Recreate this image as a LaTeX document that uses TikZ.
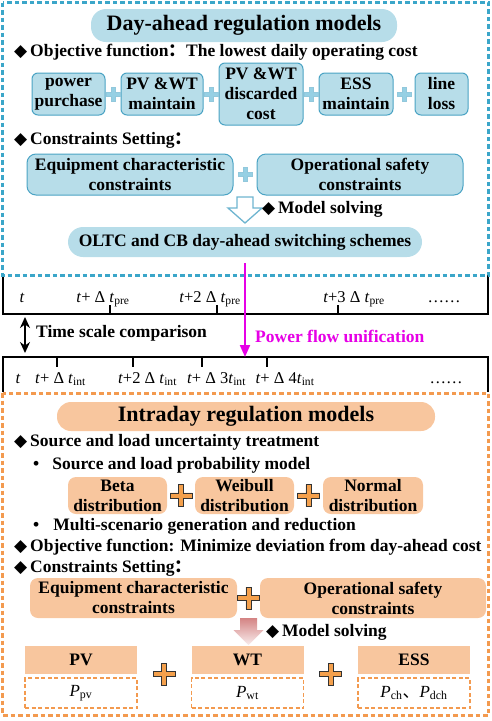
\documentclass[tikz,border=0pt]{standalone}
\usepackage{fontspec}
\setmainfont{Liberation Serif}
\newfontfamily\symfont{DejaVu Sans}
\newfontfamily\cjk{Noto Sans CJK SC}
\usetikzlibrary{arrows.meta,positioning,calc}
\definecolor{dashblue}{RGB}{59,166,201}
\definecolor{boxblue}{RGB}{183,221,233}
\definecolor{edgeblue}{RGB}{74,163,196}
\definecolor{plusblue}{RGB}{150,208,228}
\definecolor{dashorange}{RGB}{243,154,79}
\definecolor{peach}{RGB}{248,198,158}
\definecolor{plusorange}{RGB}{244,160,76}
\definecolor{flow}{RGB}{230,0,230}
\definecolor{rose}{RGB}{212,132,132}
\newcommand{\dia}{{\symfont\fontsize{17}{17}\selectfont ◆}\,}
\newcommand{\fw}[1]{{\cjk #1}}
\newcommand{\bodyfont}{\fontsize{17.5}{20}\selectfont\bfseries}

\begin{document}
\begin{tikzpicture}[
    x=1pt, y=-1pt,
    txt/.style={font=\bodyfont, inner sep=0pt, anchor=west},
    bbox/.style={rectangle, rounded corners=6pt, draw=edgeblue, line width=1pt,
                 fill=boxblue, align=center, font=\bodyfont, inner sep=0pt},
    bpill/.style={rectangle, rounded corners=15pt, fill=boxblue, align=center,
                 font=\bodyfont, inner sep=0pt},
    obox/.style={rectangle, rounded corners=8pt, fill=peach, align=center,
                 font=\bodyfont, inner sep=0pt},
    ohead/.style={rectangle, fill=peach, minimum width=112pt, minimum height=28pt,
                 font=\bodyfont, inner sep=0pt},
    oval/.style={rectangle, draw=dashorange, dashed, dash pattern=on 4pt off 2.5pt,
                 line width=1.6pt, minimum width=112pt, minimum height=30pt,
                 font=\fontsize{17}{17}\selectfont, inner sep=0pt},
    frame/.style={line width=3pt, dash pattern=on 4.5pt off 3pt},
    tline/.style={line width=1.4pt, black},
    tlab/.style={font=\fontsize{16.5}{16.5}\selectfont, anchor=base, inner sep=0pt},
    bplus/.pic={\filldraw[fill=plusblue, draw=edgeblue!60, line width=0.6pt]
        (-2,-7) -- (2,-7) -- (2,-2) -- (7,-2) -- (7,2) -- (2,2) -- (2,7)
        -- (-2,7) -- (-2,2) -- (-7,2) -- (-7,-2) -- (-2,-2) -- cycle;},
    oplus/.pic={\filldraw[fill=plusorange, draw=black!80, line width=0.8pt]
        (-2.6,-11) -- (2.6,-11) -- (2.6,-2.6) -- (11,-2.6) -- (11,2.6) -- (2.6,2.6)
        -- (2.6,11) -- (-2.6,11) -- (-2.6,2.6) -- (-11,2.6) -- (-11,-2.6)
        -- (-2.6,-2.6) -- cycle;}
]
\useasboundingbox (0,0) rectangle (491,721);

% Timelines
\draw[tline] (3,275) -- (3,314) -- (488,314) -- (488,275);
\foreach \x in {110,217,338} \draw[tline] (\x,305) -- (\x,314);
\draw[tline] (3,392) -- (3,357) -- (488,357) -- (488,392);
\foreach \x in {57,133,202,267} \draw[tline] (\x,357) -- (\x,367);

% Frames
\draw[dashblue, frame] (2.5,2.5) rectangle (488.5,275);
\draw[dashorange, frame] (2.5,393) rectangle (488.5,715);

% Day-ahead part
\node[bpill, minimum width=306pt, minimum height=33pt,
      font=\fontsize{22}{22}\selectfont\bfseries] (dtitle) at (244,25.5) {Day-ahead regulation models};
\node[txt] (dobj) at (14,52) {\dia Objective function\fw{：}The lowest daily operating cost};

\node[bbox, minimum width=73pt, minimum height=42pt] (buy) at (68.5,94) {power\\purchase};
\node[bbox, minimum width=82pt, minimum height=42pt] (pvm) at (162,94) {PV \&WT\\maintain};
\node[bbox, minimum width=84pt, minimum height=62pt] (pvd) at (261,94) {PV \&WT\\discarded\\cost};
\node[bbox, minimum width=74pt, minimum height=42pt] (essm) at (356,94) {ESS\\maintain};
\node[bbox, minimum width=53pt, minimum height=42pt] (loss) at (441.5,94) {line\\loss};
\pic at ($(buy.east)!0.5!(pvm.west)$) {bplus};
\pic at ($(pvm.east)!0.5!(pvd.west)$) {bplus};
\pic at ($(pvd.east)!0.5!(essm.west)$) {bplus};
\pic at ($(essm.east)!0.5!(loss.west)$) {bplus};

\node[txt] (dcon) at (14,140) {\dia Constraints Setting\fw{：}};
\node[bbox, rounded corners=9pt, minimum width=206pt, minimum height=41pt] (deq) at (130,174.5) {Equipment characteristic\\constraints};
\node[bbox, rounded corners=9pt, minimum width=206pt, minimum height=41pt] (dop) at (360,174.5) {Operational safety\\constraints};
\pic at ($(deq.east)!0.5!(dop.west)$) {bplus};

\coordinate (harr) at (245,197);
\draw[edgeblue!80, line width=1.3pt, fill=white] (harr) ++(-8,0) -- ++(16,0) -- ++(0,11)
    -- ++(9,0) -- ++(-17,15) -- ++(-17,-15) -- ++(9,0) -- cycle;
\node[txt] (dsolve) at (262,209) {\dia Model solving};
\node[bpill, minimum width=354pt, minimum height=30pt] (oltc) at (245,242) {OLTC and CB day-ahead switching schemes};

% Time scale labels
\node[tlab] (pre0) at (22,302) {\textit{t}};
\node[tlab] (pre1) at (103,302) {\textit{t}+ Δ \textit{t}\textsubscript{pre}};
\node[tlab] (pre2) at (210,302) {\textit{t}+2 Δ \textit{t}\textsubscript{pre}};
\node[tlab] (pre3) at (354,302) {\textit{t}+3 Δ \textit{t}\textsubscript{pre}};
\node[tlab] (predots) at (444,302) {……};
\node[tlab] (int0) at (18,383) {\textit{t}};
\node[tlab] (int1) at (60.5,383) {\textit{t}+ Δ \textit{t}\textsubscript{int}};
\node[tlab] (int2) at (147.5,383) {\textit{t}+2 Δ \textit{t}\textsubscript{int}};
\node[tlab] (int3) at (216.5,383) {\textit{t}+ Δ 3\textit{t}\textsubscript{int}};
\node[tlab] (int4) at (285,383) {\textit{t}+ Δ 4\textit{t}\textsubscript{int}};
\node[tlab] (intdots) at (446,383) {……};

\coordinate (ts1) at (25,317);
\coordinate (ts2) at (25,353);
\draw[{Stealth[length=11pt,width=10pt]}-{Stealth[length=11pt,width=10pt]}, line width=1.8pt] (ts1) -- (ts2);
\node[txt] (tscale) at (36,333) {Time scale comparison};

\coordinate (flowend) at (245,357);
\draw[flow, line width=2pt, -{Triangle[length=12pt,width=10pt]}, shorten <=6pt] (oltc.south) -- (flowend);
\node[txt, text=flow] (flowlab) at (255,336) {Power flow unification};

% Intraday part
\node[obox, rounded corners=14pt, minimum width=378pt, minimum height=29pt,
      font=\fontsize{22}{22}\selectfont\bfseries] (ititle) at (246,416.5) {Intraday regulation models};
\node[txt] (iunc) at (14,442) {\dia Source and load uncertainty treatment};
\node[txt] (iprob) at (33,465) {•\hspace{13pt}Source and load probability model};
\node[obox, minimum width=99pt, minimum height=37pt] (beta) at (117.5,495.5) {Beta\\distribution};
\node[obox, minimum width=99pt, minimum height=37pt] (weib) at (244.5,495.5) {Weibull\\distribution};
\node[obox, minimum width=100pt, minimum height=37pt] (norm) at (373,495.5) {Normal\\distribution};
\pic at ($(beta.east)!0.5!(weib.west)$) {oplus};
\pic at ($(weib.east)!0.5!(norm.west)$) {oplus};
\node[txt] (iscen) at (33,526) {•\hspace{14pt}Multi-scenario generation and reduction};
\node[txt] (iobj) at (14,547) {\dia Objective function: Minimize deviation from day-ahead cost};
\node[txt] (icon) at (14,568) {\dia Constraints Setting\fw{：}};
\node[obox, minimum width=207pt, minimum height=40pt] (ieq) at (133.5,598) {Equipment characteristic\\constraints};
\node[obox, minimum width=226pt, minimum height=40pt] (iop) at (373,598) {Operational safety\\constraints};
\pic at ($(ieq.east)!0.5!(iop.west)$) {oplus};

\coordinate (garr) at (248.5,618);
\shade[top color=rose, bottom color=rose!15] (garr) ++(-8.5,0) -- ++(17,0) -- ++(0,12)
    -- ++(6.5,0) -- ++(-15,15) -- ++(-15,-15) -- ++(6.5,0) -- cycle;
\node[txt] (isolve) at (266,632) {\dia Model solving};

\node[ohead] (pvh) at (81,660) {PV};
\node[ohead] (wth) at (247.5,660) {WT};
\node[ohead] (essh) at (414,660) {ESS};
\node[oval] (pvv) at (81,693) {\textit{P}\textsubscript{pv}};
\node[oval] (wtv) at (247.5,693) {\textit{P}\textsubscript{wt}};
\node[oval] (essv) at (414,693) {\textit{P}\textsubscript{ch}\fw{、}\textit{P}\textsubscript{dch}};
\pic at ($(pvh.south east)!0.5!(wth.south west)$) {oplus};
\pic at ($(wth.south east)!0.5!(essh.south west)$) {oplus};
\end{tikzpicture}
\end{document}
